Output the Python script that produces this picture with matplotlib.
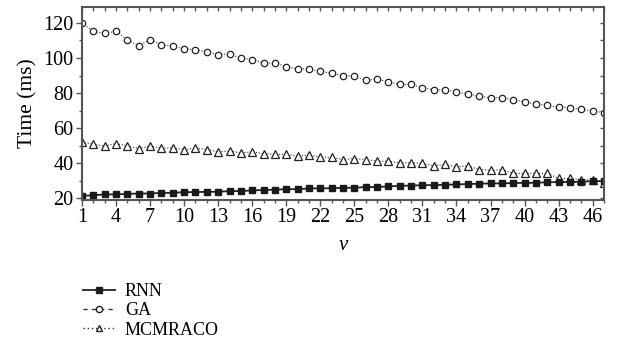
import matplotlib
matplotlib.use("Agg")
import matplotlib.pyplot as plt
from matplotlib.lines import Line2D
import numpy as np

plt.rcParams['font.family'] = ['Liberation Serif', 'DejaVu Serif']

v = list(range(1, 48))
rnn = [21.3, 21.6, 22.1, 22.1, 22.4, 22.6, 22.6, 23.0, 23.0, 23.4,
       23.4, 23.6, 23.6, 24.0, 24.0, 24.4, 24.6, 24.8, 25.1, 25.1,
       25.5, 25.6, 25.6, 25.9, 25.9, 26.3, 26.3, 26.7, 27.0, 27.1,
       27.4, 27.4, 27.6, 27.8, 28.0, 28.2, 28.4, 28.4, 28.6, 28.7,
       28.7, 29.1, 29.1, 29.2, 29.3, 29.7, 29.7]
ga = [120.0, 115.2, 114.1, 115.2, 110.5, 107.0, 110.5, 107.6, 106.7, 105.2,
      104.8, 103.3, 102.0, 102.3, 99.9, 99.1, 97.2, 97.2, 95.1, 93.8,
      93.8, 92.3, 91.3, 90.0, 89.6, 87.2, 88.1, 86.2, 84.9, 84.9,
      83.0, 81.9, 81.9, 80.5, 79.6, 78.1, 77.3, 77.3, 76.2, 74.8,
      73.9, 72.9, 72.0, 71.6, 70.7, 69.7, 68.8]
mcmraco = [52.0, 50.7, 49.8, 51.1, 49.8, 48.3, 49.6, 48.6, 48.6, 47.7,
           48.6, 47.7, 46.4, 46.9, 45.8, 46.4, 45.4, 45.0, 45.0, 44.1,
           44.5, 43.5, 43.2, 42.0, 42.6, 42.0, 41.1, 41.1, 40.1, 40.1,
           39.8, 38.4, 39.2, 37.8, 38.4, 36.3, 35.9, 36.3, 34.1, 34.1,
           34.1, 34.1, 31.2, 31.2, 30.6, 30.2, 28.7]
labels = ['RNN', 'GA', 'MCMRACO']

fig = plt.figure(figsize=(6.23, 3.53), dpi=100)
ax = fig.add_axes([0.1316, 0.4334, 0.9695 - 0.1316, 0.981 - 0.4334])

spine_c = '#555555'
ax.plot(v, ga, linestyle=(0, (1, 1.6)), color='#333333', lw=0.8, marker='o',
        markersize=4.6, markerfacecolor='white', markeredgecolor='#222222', markeredgewidth=0.9)
ax.plot(v, mcmraco, linestyle=(0, (1, 1.6)), color='#333333', lw=0.8, marker='^',
        markersize=5.2, markerfacecolor='white', markeredgecolor='#222222', markeredgewidth=0.9)
ax.plot(v, rnn, linestyle='-', color='#222222', lw=1.3, marker='s',
        markersize=4.4, markerfacecolor='#1a1a1a', markeredgecolor='#1a1a1a')

ax.set_xlim(1, 47)
ax.set_ylim(18.9, 129.3)
ax.set_xticks(np.arange(1, 47, 3))
ax.set_xticks(np.arange(1, 48, 1), minor=True)
ax.set_yticks(np.arange(20, 121, 20))
ax.set_yticks(np.arange(20, 130, 10), minor=True)
for s in ax.spines.values():
    s.set_color(spine_c)
    s.set_linewidth(1.5)
ax.tick_params(axis='both', which='major', direction='out', length=4, width=1.0,
               color=spine_c, labelsize=14.5, pad=2)
ax.tick_params(axis='both', which='minor', direction='out', length=2.5, width=1.0, color=spine_c)

secx = ax.secondary_xaxis('top')
secx.set_xticks(np.arange(1, 48, 1))
secx.tick_params(direction='in', length=3, width=1.0, color=spine_c, labeltop=False)
secx.spines['top'].set_visible(False)
secy = ax.secondary_yaxis('right')
secy.set_yticks(np.arange(20, 130, 10))
secy.tick_params(direction='in', length=3, width=1.0, color=spine_c, labelright=False)
secy.spines['right'].set_visible(False)

ax.set_ylabel('Time (ms)', fontsize=15.5, labelpad=4)
ax.set_xlabel('v', fontsize=15, fontstyle='italic', labelpad=6)

handles = [
    Line2D([], [], color='#222222', lw=1.3, marker='s', markersize=4.5,
           markerfacecolor='#1a1a1a'),
    Line2D([], [], color='#333333', lw=1.0, linestyle=(0, (3, 3)), marker='o', markersize=4.5,
           markerfacecolor='white', markeredgecolor='#222222'),
    Line2D([], [], color='#333333', lw=1.0, linestyle=(0, (1, 2)), marker='^', markersize=4.5,
           markerfacecolor='white', markeredgecolor='#222222'),
]
fig.legend(handles, labels, loc='upper left', bbox_to_anchor=(0.122, 0.218), frameon=False,
           fontsize=13, handlelength=1.75, handletextpad=0.55, labelspacing=0.12,
           borderaxespad=0)

fig.savefig('out.png', dpi=100)
